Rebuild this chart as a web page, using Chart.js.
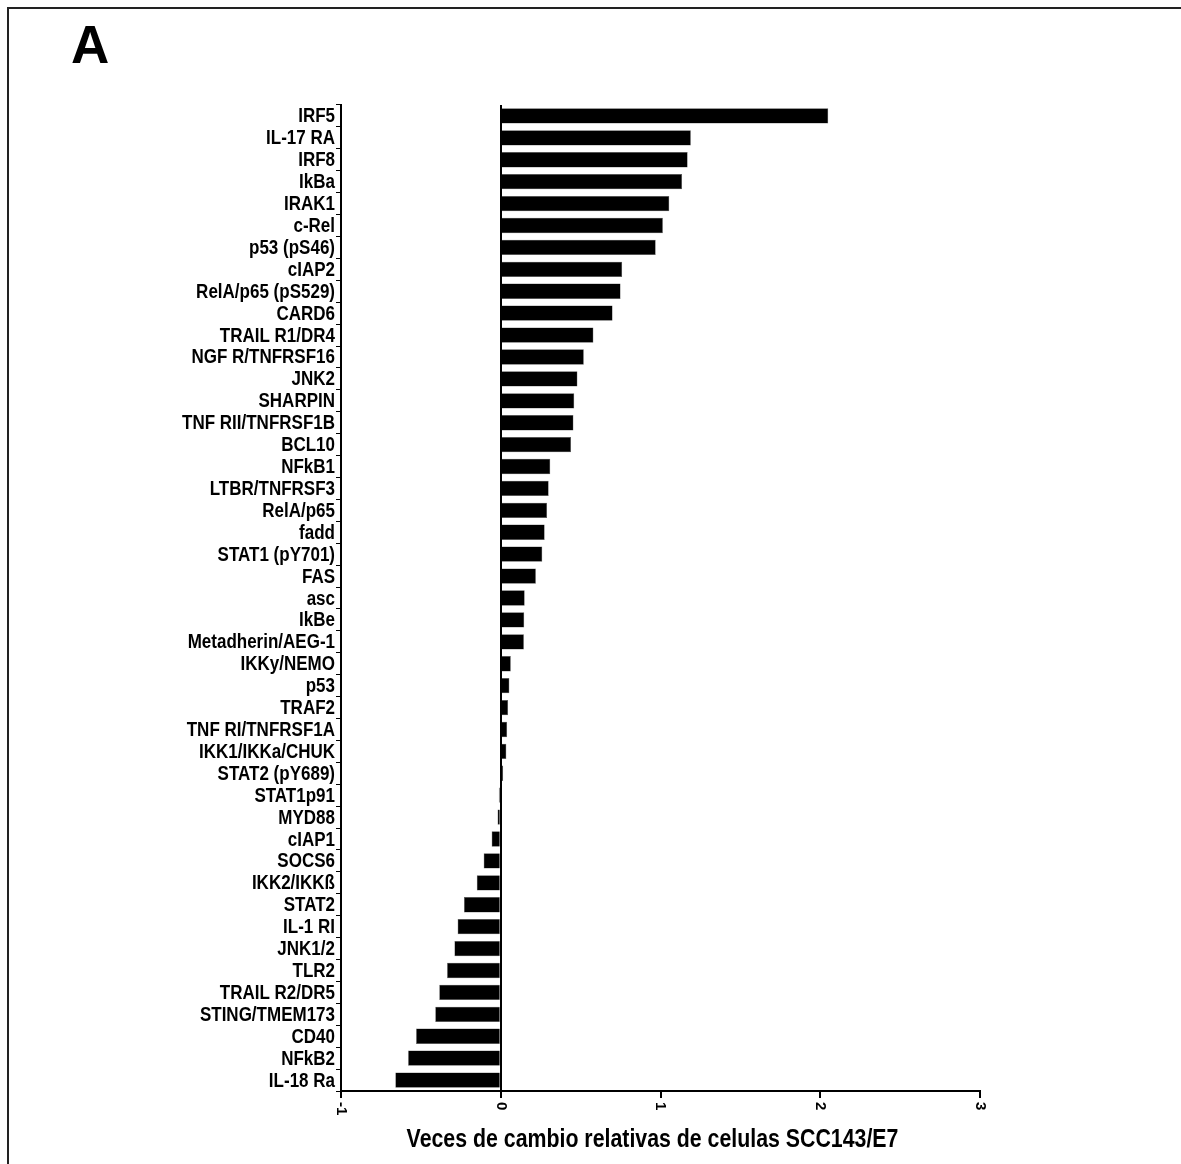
<!DOCTYPE html>
<html>
<head>
<meta charset="utf-8">
<script src="https://cdn.jsdelivr.net/npm/chart.js@4.4.1/dist/chart.umd.min.js"></script>
<style>
  body { margin: 0; background: #fff; }
  #frame { position: absolute; left: 7px; top: 7px; width: 1300px; height: 1300px; border: 2px solid #222; }
  #panel { position: absolute; left: 71px; top: 14px; font: bold 53px "Liberation Sans", Arial, sans-serif; color: #000; }
  #wrap { position: absolute; left: 0; top: 0; }
</style>
</head>
<body>
<div id="frame"></div>
<div id="panel">A</div>
<div id="wrap"><canvas id="chart" width="1181" height="1164"></canvas></div>
<script>
const genes = ["IRF5", "IL-17 RA", "IRF8", "IkBa", "IRAK1", "c-Rel", "p53 (pS46)", "cIAP2",
  "RelA/p65 (pS529)", "CARD6", "TRAIL R1/DR4", "NGF R/TNFRSF16", "JNK2", "SHARPIN",
  "TNF RII/TNFRSF1B", "BCL10", "NFkB1", "LTBR/TNFRSF3", "RelA/p65", "fadd", "STAT1 (pY701)",
  "FAS", "asc", "IkBe", "Metadherin/AEG-1", "IKKy/NEMO", "p53", "TRAF2", "TNF RI/TNFRSF1A",
  "IKK1/IKKa/CHUK", "STAT2 (pY689)", "STAT1p91", "MYD88", "cIAP1", "SOCS6", "IKK2/IKKß",
  "STAT2", "IL-1 RI", "JNK1/2", "TLR2", "TRAIL R2/DR5", "STING/TMEM173", "CD40", "NFkB2", "IL-18 Ra"];

const foldChange = [2.05, 1.19, 1.17, 1.135, 1.055, 1.015, 0.97, 0.76,
  0.75, 0.70, 0.58, 0.52, 0.48, 0.46,
  0.455, 0.44, 0.31, 0.30, 0.29, 0.275, 0.26,
  0.22, 0.15, 0.147, 0.145, 0.063, 0.054, 0.046, 0.04,
  0.035, 0.015, -0.012, -0.02, -0.057, -0.107, -0.15,
  -0.23, -0.27, -0.29, -0.336, -0.385, -0.41, -0.53, -0.58, -0.66];

const xTicks = [-1, 0, 1, 2, 3];
const xTitle = "Veces de cambio relativas de celulas SCC143/E7";

const FONT = '"Liberation Sans", Arial, sans-serif';
const NARROW = 0.85; // the original uses a condensed face

// condensed text: y labels, x title, and x tick labels that read top-to-bottom
const narrowText = {
  id: 'narrowText',
  afterDraw(chart) {
    const ctx = chart.ctx;
    const x = chart.scales.x;
    const y = chart.scales.y;
    ctx.save();
    ctx.fillStyle = '#000';

    ctx.font = 'bold 20px ' + FONT;
    ctx.textAlign = 'right';
    ctx.textBaseline = 'middle';
    genes.forEach((g, i) => {
      ctx.save();
      ctx.translate(y.right - 6, y.getPixelForTick(i) + 1);
      ctx.scale(NARROW, 1);
      ctx.fillText(g, 0, 0);
      ctx.restore();
    });

    ctx.font = 'bold 15px ' + FONT;
    ctx.textAlign = 'left';
    for (const v of xTicks) {
      ctx.save();
      ctx.translate(x.getPixelForValue(v), x.top + 11);
      ctx.rotate(Math.PI / 2);
      ctx.fillText(String(v), 0, 0);
      ctx.restore();
    }

    ctx.font = 'bold 26px ' + FONT;
    ctx.textAlign = 'center';
    ctx.save();
    ctx.translate((x.left + x.right) / 2 - 8, 1140);
    ctx.scale(0.82, 1);
    ctx.fillText(xTitle, 0, 0);
    ctx.restore();

    ctx.restore();
  }
};

new Chart(document.getElementById('chart').getContext('2d'), {
  type: 'bar',
  data: {
    labels: genes,
    datasets: [{
      data: foldChange,
      backgroundColor: '#000',
      borderColor: '#555',
      borderWidth: 0.5,
      barPercentage: 0.7,
      categoryPercentage: 1.0
    }]
  },
  options: {
    indexAxis: 'y',
    responsive: false,
    animation: false,
    layout: { padding: { left: 0, right: 201, top: 105, bottom: 0 } },
    plugins: { legend: { display: false }, tooltip: { enabled: false } },
    scales: {
      x: {
        type: 'linear',
        min: -1,
        max: 3,
        afterBuildTicks: (s) => { s.ticks = xTicks.map(v => ({ value: v })); },
        afterFit: (s) => { s.height = 73; },
        ticks: { display: false },
        border: { color: '#000', width: 2 },
        grid: {
          color: (c) => (c.tick && c.tick.value === 0) ? '#000' : 'transparent',
          lineWidth: 2,
          tickColor: '#000',
          tickLength: 7
        }
      },
      y: {
        afterFit: (s) => { s.width = 341; },
        border: { color: '#000', width: 2 },
        grid: { drawOnChartArea: false, tickColor: '#000', tickLength: 5 },
        ticks: {
          color: 'transparent',
          autoSkip: false,
          font: { family: FONT, size: 19, weight: 'bold' }
        }
      }
    }
  },
  plugins: [narrowText]
});
</script>
</body>
</html>
